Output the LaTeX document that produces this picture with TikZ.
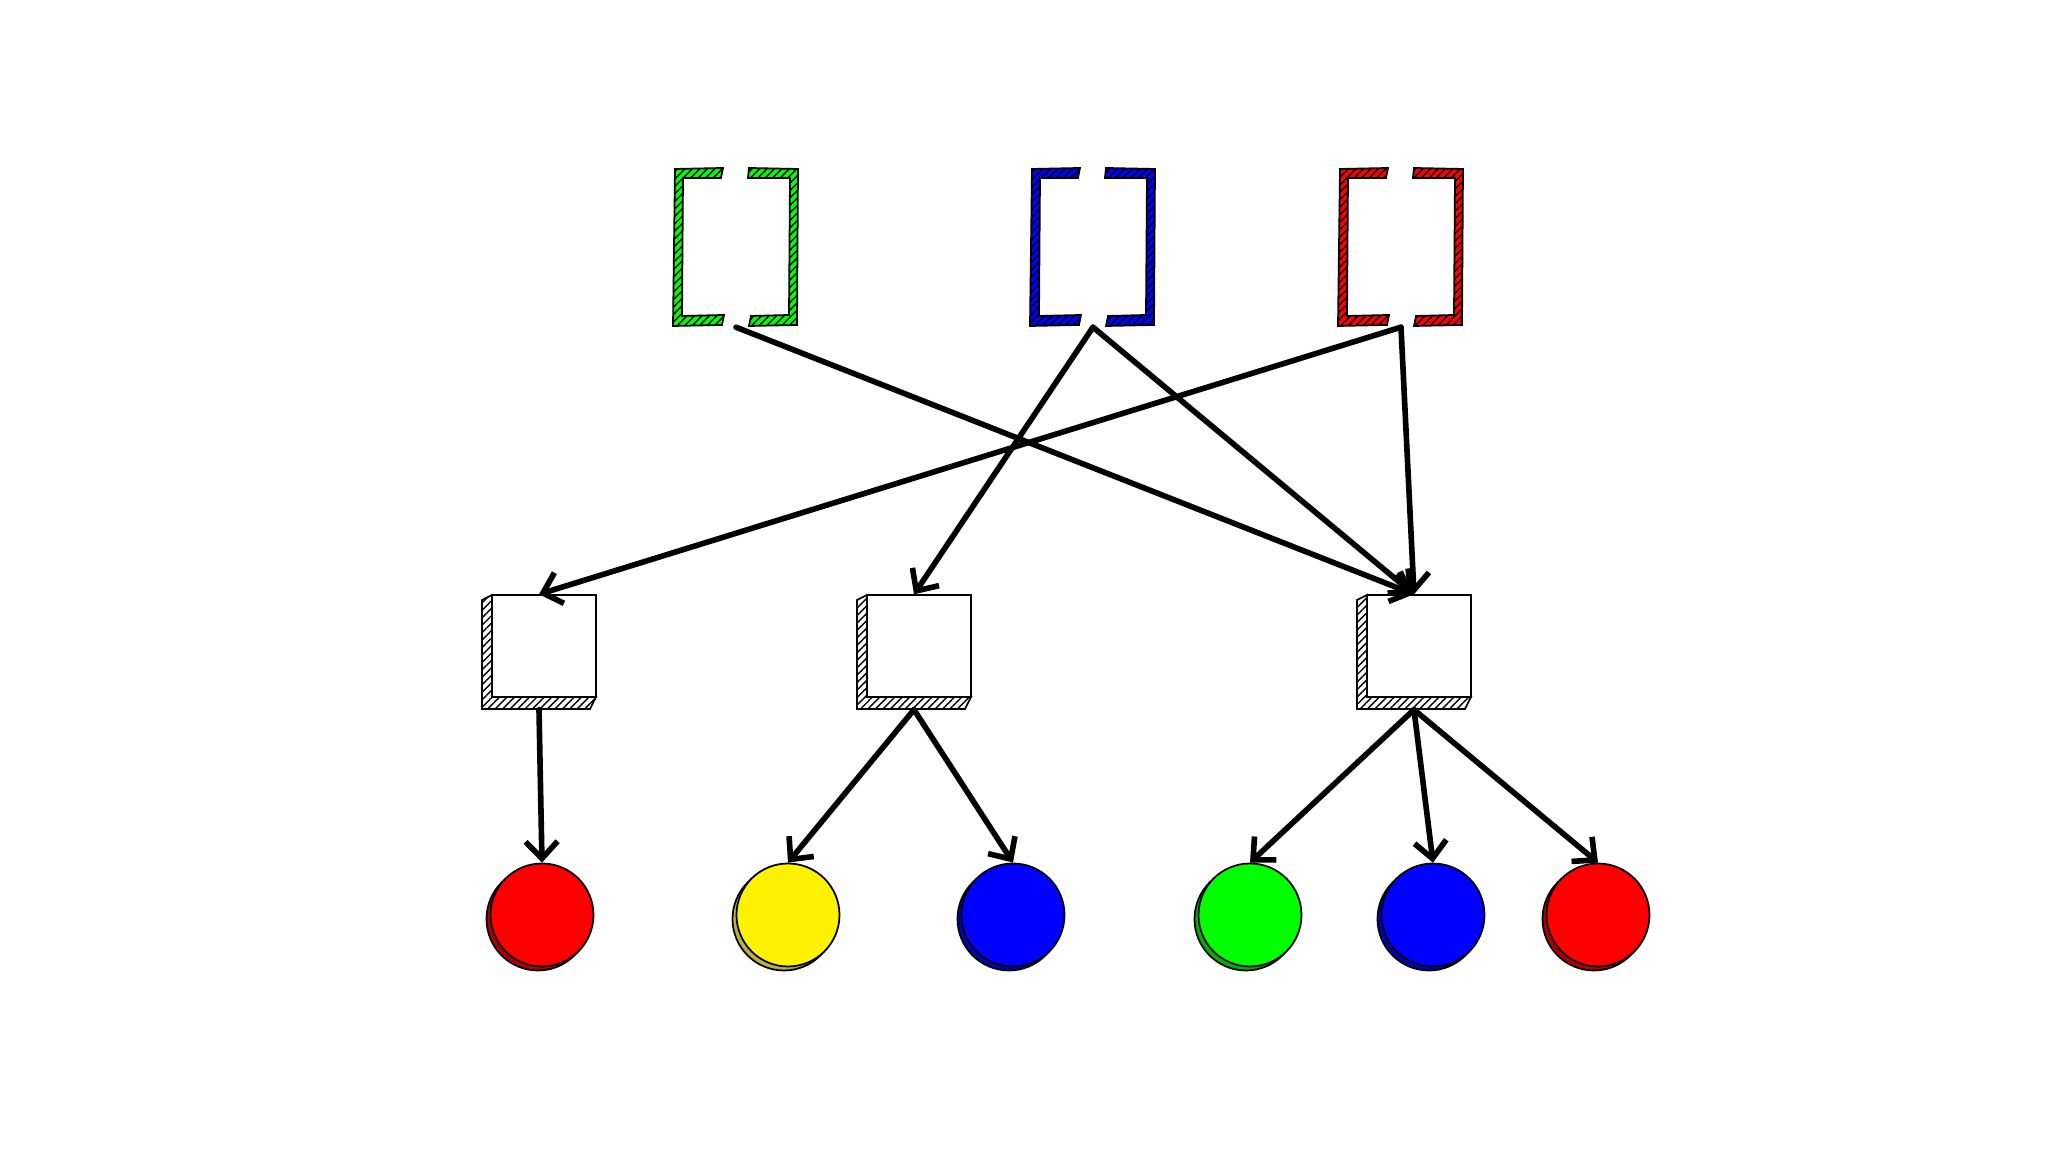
\documentclass[tikz,border=0pt]{standalone}
\usepackage{tikz}
\usetikzlibrary{arrows.meta,patterns.meta,shadows}

\begin{document}
\begin{tikzpicture}[>={Straight Barb[length=1.7mm,width=3.2mm]},
  link/.style={->, line width=1.6pt, line cap=round, line join=round},
  hatch/.style={pattern={Lines[angle=45,distance=1.5pt,line width=0.4pt]}, pattern color=black},
  pair/.style={minimum width=1.26cm, minimum height=1.59cm, inner sep=0pt},
  block/.style={minimum size=1.14cm, inner sep=0pt},
  ball/.style={circle, draw, line width=0.5pt, fill=#1, minimum size=1.03cm, inner sep=0pt,
    drop shadow={shadow xshift=-0.04cm, shadow yshift=-0.04cm, opacity=1, fill=#1!70!black, draw=black, line width=0.5pt}}]
\useasboundingbox (0,0) rectangle (20.48,11.52);
\node[pair] (lg) at (7.36,9.05) {};
\node[pair] (lb) at (10.93,9.05) {};
\node[pair] (lr) at (14.01,9.05) {};
\foreach \n/\c in {lg/green, lb/blue, lr/red}{
  \draw[line width=0.5pt, hatch, preaction={fill=\c}, shift={(\n.center)}]
    (-0.13,0.79) -- (-0.61,0.78) -- (-0.63,-0.79) -- (-0.14,-0.78) -- (-0.12,-0.68) -- (-0.54,-0.69) -- (-0.53,0.69) -- (-0.15,0.69) -- cycle
    (0.13,0.79) -- (0.62,0.78) -- (0.61,-0.78) -- (0.13,-0.79) -- (0.15,-0.69) -- (0.53,-0.68) -- (0.54,0.69) -- (0.12,0.69) -- cycle;
}
\node[block] (q1) at (5.39,5.00) {};
\node[block] (q2) at (9.14,5.00) {};
\node[block] (q3) at (14.14,5.00) {};
\foreach \n in {q1,q2,q3}{
  \draw[line width=0.5pt, hatch, shift={(\n.center)}] (-0.47,0.57) -- (-0.57,0.52) -- (-0.57,-0.57) -- (0.51,-0.57) -- (0.57,-0.45) -- (-0.47,-0.45) -- cycle;
  \draw[line width=0.5pt, fill=white, shift={(\n.center)}] (-0.47,-0.45) rectangle (0.57,0.57);
}
\node[ball=red] (c1) at (5.42,2.37) {};
\node[ball=yellow] (c2) at (7.88,2.37) {};
\node[ball=blue] (c3) at (10.13,2.37) {};
\node[ball=green] (c4) at (12.50,2.37) {};
\node[ball=blue] (c5) at (14.33,2.37) {};
\node[ball=red] (c6) at (15.98,2.37) {};
\draw[link] (lg.south) -- (q3.north);
\draw[link] (lb.south) -- (q2.north);
\draw[link] (lb.south) -- (q3.north);
\draw[link] (lr.south) -- (q1.north);
\draw[link] (lr.south) -- (q3.north);
\draw[link] (q1.south) -- (c1.north);
\draw[link] (q2.south) -- (c2.north);
\draw[link] (q2.south) -- (c3.north);
\draw[link] (q3.south) -- (c4.north);
\draw[link] (q3.south) -- (c5.north);
\draw[link] (q3.south) -- (c6.north);
\end{tikzpicture}
\end{document}
